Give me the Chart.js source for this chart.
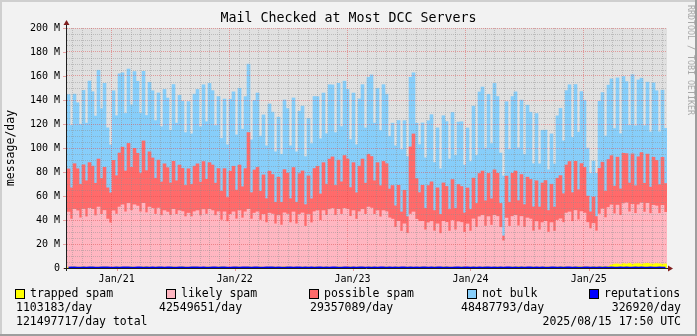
<!DOCTYPE html>
<html lang="en">
<head>
<meta charset="UTF-8" />
<title>Mail Checked at Most DCC Servers</title>
<script src="https://cdn.jsdelivr.net/npm/chart.js@4.4.1/dist/chart.umd.min.js"></script>
<style>
  html, body { margin: 0; padding: 0; background: #f2f2f2; }
  canvas { display: block; }
</style>
</head>
<body>
<canvas id="chart" width="697" height="336"></canvas>
<script>
// samples every ~9 days, Aug 2020 .. Aug 2025, values in M messages/day
const startDate = '2020-08-15T17:50:00Z';
const endDate = '2025-08-15T17:50:00Z';

const trappedSpam = [
  0.6,0.8,0.9,0.7,0.8,1.0,0.7,0.8,0.9,0.6,0.8,0.7,0.9,0.8,0.6,0.7,0.9,0.8,0.7,0.8,
  0.8,0.9,0.7,0.6,0.8,0.9,1.1,0.8,0.7,0.8,0.9,0.7,0.8,0.6,0.8,0.9,0.7,0.8,1.0,0.8,
  0.7,0.8,0.9,0.8,0.6,0.7,0.9,0.8,0.8,0.7,0.9,1.0,0.8,0.7,0.6,0.8,0.9,0.8,0.7,0.8,
  0.9,0.8,0.7,0.8,0.9,0.6,0.8,0.7,0.9,0.8,0.7,0.8,1.0,0.9,0.8,0.7,0.8,0.6,0.9,0.8,
  0.8,0.7,0.9,0.8,0.7,0.8,0.9,0.7,0.6,0.8,0.9,0.8,0.7,0.8,1.0,0.8,0.7,0.9,0.8,0.7,
  0.8,0.9,0.7,0.8,0.6,0.8,0.9,0.8,0.7,0.8,0.9,0.7,0.8,0.8,0.9,0.7,0.6,0.8,0.9,0.8,
  0.7,0.8,0.9,0.8,0.7,0.9,1.0,0.8,0.7,0.8,0.6,0.9,0.8,0.7,0.8,0.9,0.8,0.7,0.8,0.9,
  0.8,0.7,0.8,0.9,0.8,0.7,0.6,0.8,0.9,0.8,1.1,0.9,0.8,0.7,0.8,0.9,0.7,0.8,0.8,0.9,
  0.9,0.8,0.7,0.8,1.0,0.9,0.8,0.7,0.8,0.9,1.2,1.0,0.8,0.9,0.8,1.1,0.9,1.0,1.2,1.0,
  1.4,2.6,3.2,3.4,2.9,3.6,3.3,3.8,3.1,3.5,3.7,3.2,3.6,3.9,3.4,3.3,3.7,3.5,3.2,3.4
];

const likelySpam = [
  46,40,48,47,41,48,42,49,48,43,50,44,47,40,37,
  47,44,50,52,46,53,47,52,51,46,53,45,50,49,44,49,
  43,47,46,43,48,44,47,46,42,45,42,46,47,43,48,44,48,47,43,46,
  39,46,38,44,46,40,47,41,46,48,40,45,46,39,
  44,37,45,44,36,43,35,45,44,37,46,36,44,45,34,44,37,46,47,39,
  47,43,48,49,43,48,44,49,48,42,47,40,46,48,44,50,49,44,
  47,42,47,46,41,40,33,38,30,36,28,44,46,40,38,
  38,31,37,38,30,36,28,38,37,30,39,31,38,37,29,36,30,
  40,33,42,43,34,42,35,43,42,33,22,41,34,42,43,34,42,33,41,40,
  30,38,31,37,38,29,37,30,39,40,
  37,45,46,38,47,39,46,45,37,32,36,30,44,
  48,41,49,50,42,49,41,50,51,43,50,42,49,51,43,50,42,49,48,42,49,43
];

const possibleSpam = [
  36,26,38,35,28,37,30,38,36,27,40,30,36,26,25,
  42,32,45,48,34,50,36,47,44,32,52,35,46,42,30,40,
  28,39,37,27,40,28,38,36,26,37,27,38,39,28,40,29,39,38,27,36,
  24,36,20,36,38,24,38,26,36,64,22,36,37,24,
  33,20,35,33,18,32,19,36,34,20,37,18,34,35,18,32,20,36,37,22,
  40,26,42,43,25,41,27,44,42,24,40,22,38,42,26,44,43,28,
  40,26,41,40,24,28,18,30,16,28,14,56,65,34,24,
  30,18,31,33,17,30,16,32,30,18,34,18,31,30,16,30,18,
  34,20,36,37,21,36,22,38,36,20,4,35,20,36,37,21,35,19,34,33,
  20,34,19,33,34,18,32,20,35,36,
  24,40,42,24,41,25,40,38,22,14,22,12,38,
  39,22,40,41,23,40,22,42,41,24,42,23,40,42,24,41,22,40,38,24,40,24
];

const notBulk = [
  62,52,58,55,50,62,48,68,62,56,74,58,70,50,40,
  58,50,66,62,48,62,52,64,60,50,58,46,58,56,48,56,
  46,62,58,44,64,48,58,56,44,56,42,60,62,46,64,48,66,62,48,60,
  44,58,44,60,62,46,64,48,60,57,44,58,62,46,
  50,44,56,52,42,50,40,58,54,44,58,42,52,54,40,48,46,60,58,46,
  58,42,62,60,44,64,46,62,58,40,58,40,56,62,46,64,68,48,
  62,46,64,58,44,52,50,54,52,58,50,58,51,46,40,
  52,42,54,56,40,50,38,56,54,42,56,44,52,54,40,50,40,
  60,40,68,70,44,66,46,72,64,42,50,62,44,64,66,44,62,42,60,56,
  36,56,36,44,42,34,42,36,52,56,
  44,62,64,46,64,48,60,56,40,32,30,36,56,
  58,46,62,64,48,66,46,64,60,48,66,50,64,62,48,60,46,62,58,44,56,46
];

const reputations = [
  0.30,0.35,0.40,0.30,0.30,0.35,0.30,0.40,0.35,0.30,0.30,0.35,0.40,0.35,0.30,0.30,0.35,0.30,0.40,0.35,
  0.35,0.30,0.30,0.40,0.35,0.30,0.35,0.30,0.40,0.30,0.35,0.35,0.30,0.40,0.35,0.30,0.30,0.35,0.40,0.30,
  0.30,0.35,0.40,0.35,0.30,0.35,0.30,0.30,0.40,0.35,0.30,0.35,0.40,0.30,0.30,0.35,0.35,0.30,0.40,0.35,
  0.35,0.30,0.35,0.40,0.30,0.30,0.35,0.40,0.35,0.30,0.35,0.30,0.30,0.40,0.35,0.30,0.35,0.40,0.30,0.35,
  0.30,0.35,0.30,0.40,0.35,0.30,0.35,0.30,0.40,0.35,0.30,0.30,0.35,0.40,0.30,0.35,0.30,0.35,0.40,0.30,
  0.35,0.30,0.40,0.30,0.35,0.35,0.30,0.40,0.30,0.35,0.30,0.35,0.40,0.30,0.35,0.30,0.35,0.30,0.40,0.35,
  0.30,0.35,0.30,0.40,0.35,0.30,0.35,0.30,0.30,0.40,0.35,0.30,0.35,0.40,0.30,0.35,0.30,0.35,0.30,0.40,
  0.35,0.30,0.35,0.30,0.40,0.30,0.35,0.35,0.30,0.40,0.30,0.35,0.30,0.35,0.40,0.30,0.35,0.30,0.35,0.30,
  0.30,0.35,0.40,0.30,0.35,0.30,0.35,0.40,0.30,0.35,0.30,0.30,0.35,0.40,0.30,0.35,0.30,0.35,0.30,0.35,
  0.30,0.35,0.30,0.30,0.35,0.30,0.35,0.30,0.30,0.35,0.30,0.35,0.30,0.30,0.35,0.30,0.30,0.35,0.30,0.30
];

const yearTickDates = ['2021-01-01', '2022-01-01', '2023-01-01', '2024-01-01', '2025-01-01'];
const yearTickLabels = ['Jan/21', 'Jan/22', 'Jan/23', 'Jan/24', 'Jan/25'];

const legendNames = ['trapped spam', 'likely spam', 'possible spam', 'not bulk', 'reputations'];
const legendAverages = ['1103183/day', '42549651/day', '29357089/day', '48487793/day', '326920/day'];
const totalText = '121497717/day total';
const stampText = '2025/08/15 17:50 UTC';

const colors = ['#ffff00', '#ffb6c1', '#ff6b6b', '#87cefa', '#0000ff'];
const MONO = "'DejaVu Sans Mono', monospace";
const minorGrid = 'rgba(143,143,143,0.45)';
const majorGrid = 'rgba(222,79,79,0.5)';

const DAY = 86400000;
const t0 = Date.parse(startDate);
const t1 = Date.parse(endDate);
const totalDays = (t1 - t0) / DAY;
const n = likelySpam.length;
const categories = likelySpam.map((v, i) =>
   new Date(t0 + (i + 0.5) * (t1 - t0) / n).toISOString().slice(0, 10));

// month grid, labels only on January
const monthTicks = [];
for (let y = 2020; y <= 2025; y++) {
   for (let m = 0; m < 12; m++) {
      const ms = Date.UTC(y, m, 1);
      const d = (ms - t0) / DAY;
      if (d <= 0 || d >= totalDays) continue;
      const k = yearTickDates.indexOf(new Date(ms).toISOString().slice(0, 10));
      monthTicks.push({ value: d, major: k >= 0, name: k >= 0 ? yearTickLabels[k] : '' });
   }
}

const rrdDecor = {
   id: 'rrdDecor',
   beforeDraw(chart) {
      const { ctx, chartArea: a, width, height } = chart;
      ctx.save();
      ctx.fillStyle = '#f2f2f2';
      ctx.fillRect(0, 0, width, height);
      ctx.fillStyle = '#cfcfcf';
      ctx.fillRect(0, 0, width, 2);
      ctx.fillRect(0, 0, 2, height);
      ctx.fillStyle = '#9e9e9e';
      ctx.fillRect(0, height - 2, width, 2);
      ctx.fillRect(width - 2, 0, 2, height);
      ctx.fillStyle = '#e0e0e0';
      ctx.fillRect(a.left, a.top, a.right - a.left, a.bottom - a.top);
      ctx.restore();
   },
   afterDraw(chart) {
      const { ctx, chartArea: a, scales } = chart;
      ctx.save();
      // y major tick marks
      ctx.strokeStyle = majorGrid;
      ctx.lineWidth = 1;
      for (let v = 0; v <= 200; v += 20) {
         const py = Math.round(scales.y.getPixelForValue(v)) + 0.5;
         ctx.beginPath(); ctx.moveTo(a.left - 4, py); ctx.lineTo(a.left, py); ctx.stroke();
      }
      monthTicks.filter(t => t.major).forEach(t => {
         const px = Math.round(scales.t.getPixelForValue(t.value)) + 0.5;
         ctx.beginPath(); ctx.moveTo(px, a.bottom); ctx.lineTo(px, a.bottom + 3); ctx.stroke();
      });
      // axes
      ctx.strokeStyle = '#1f1f1f';
      ctx.beginPath();
      ctx.moveTo(a.left - 0.5, a.top - 4); ctx.lineTo(a.left - 0.5, a.bottom + 3);
      ctx.moveTo(a.left - 3, a.bottom + 0.5); ctx.lineTo(a.right + 2, a.bottom + 0.5);
      ctx.stroke();
      // arrows
      ctx.fillStyle = '#801f1f';
      ctx.beginPath();
      ctx.moveTo(a.left - 3.5, a.top - 3); ctx.lineTo(a.left + 2.5, a.top - 3); ctx.lineTo(a.left - 0.5, a.top - 8);
      ctx.closePath(); ctx.fill();
      ctx.beginPath();
      ctx.moveTo(a.right + 1, a.bottom - 2.5); ctx.lineTo(a.right + 1, a.bottom + 3.5); ctx.lineTo(a.right + 6, a.bottom + 0.5);
      ctx.closePath(); ctx.fill();

      ctx.fillStyle = '#000';
      ctx.textBaseline = 'middle';
      // title
      ctx.font = '13.3px ' + MONO;
      ctx.textAlign = 'center';
      ctx.fillText('Mail Checked at Most DCC Servers', 348.5, 19);
      // vertical label
      ctx.save();
      ctx.font = '11.5px ' + MONO;
      ctx.translate(11, (a.top + a.bottom) / 2);
      ctx.rotate(-Math.PI / 2);
      ctx.fillText('message/day', 0, 0);
      ctx.restore();
      // watermark
      ctx.save();
      ctx.font = '8.3px ' + MONO;
      ctx.fillStyle = '#a8a8a8';
      ctx.textAlign = 'left';
      ctx.translate(690, 5);
      ctx.rotate(Math.PI / 2);
      ctx.fillText('RRDTOOL / TOBI OETIKER', 0, 0);
      ctx.restore();

      // legend
      ctx.font = '11.5px ' + MONO;
      const boxX = [15, 166, 309, 467, 589];
      const avgX = [16, 159, 310, 461];
      legendNames.forEach((name, i) => {
         ctx.fillStyle = colors[i];
         ctx.fillRect(boxX[i] + 0.5, 289.5, 9, 9);
         ctx.strokeStyle = '#000';
         ctx.strokeRect(boxX[i] + 0.5, 289.5, 9, 9);
         ctx.fillStyle = '#000';
         ctx.textAlign = 'left';
         ctx.fillText(name, boxX[i] + 15, 294.5);
         if (i < 4) {
            ctx.fillText(legendAverages[i], avgX[i], 308);
         } else {
            ctx.textAlign = 'right';
            ctx.fillText(legendAverages[i], 681, 308);
         }
      });
      ctx.textAlign = 'left';
      ctx.fillText(totalText, 16, 322);
      ctx.textAlign = 'right';
      ctx.fillText(stampText, 681, 322);
      ctx.restore();
   }
};

const ctx = document.getElementById('chart').getContext('2d');
const chart = new Chart(ctx, {
   type: 'bar',
   data: {
      labels: categories,
      datasets: [
         {
            type: 'line',
            label: legendNames[4],
            data: reputations,
            xAxisID: 'x',
            borderColor: colors[4],
            borderWidth: 2,
            pointRadius: 0,
            fill: false,
            tension: 0
         },
         { label: legendNames[0], data: trappedSpam, xAxisID: 'x', backgroundColor: colors[0] },
         { label: legendNames[1], data: likelySpam, xAxisID: 'x', backgroundColor: colors[1] },
         { label: legendNames[2], data: possibleSpam, xAxisID: 'x', backgroundColor: colors[2] },
         { label: legendNames[3], data: notBulk, xAxisID: 'x', backgroundColor: colors[3] }
      ]
   },
   options: {
      responsive: false,
      animation: false,
      layout: { padding: { left: 0, right: 30, top: 28, bottom: 0 } },
      datasets: {
         bar: { barPercentage: 1, categoryPercentage: 1, borderWidth: 0 }
      },
      plugins: {
         legend: { display: false },
         tooltip: { enabled: false }
      },
      scales: {
         x: { type: 'category', stacked: true, display: false },
         t: {
            type: 'linear',
            axis: 'x',
            position: 'bottom',
            min: 0,
            max: totalDays,
            afterBuildTicks: s => { s.ticks = monthTicks.map(t => ({ ...t })); },
            afterFit: s => { s.height = 68; },
            grid: {
               z: 1,
               drawTicks: false,
               lineWidth: 1,
               color: c => (c.tick && c.tick.major ? majorGrid : minorGrid)
            },
            border: { display: false, dash: [1, 1] },
            ticks: {
               autoSkip: false,
               maxRotation: 0,
               padding: 5,
               color: '#000',
               font: { family: MONO, size: 10 },
               callback: (v, i, ticks) => ticks[i].name
            }
         },
         y: {
            stacked: true,
            min: 0,
            max: 200,
            afterFit: s => { s.width = 67; },
            grid: {
               z: 1,
               drawTicks: false,
               lineWidth: 1,
               color: c => (c.tick && c.tick.value % 20 === 0 ? majorGrid : minorGrid)
            },
            border: { display: false, dash: [1, 1] },
            ticks: {
               stepSize: 5,
               maxTicksLimit: 50,
               autoSkip: false,
               padding: 7,
               color: '#000',
               font: { family: MONO, size: 10 },
               callback: v => (v % 20 ? '' : (v === 0 ? '0' : v + ' M'))
            }
         }
      }
   },
   plugins: [rrdDecor]
});
</script>
</body>
</html>
